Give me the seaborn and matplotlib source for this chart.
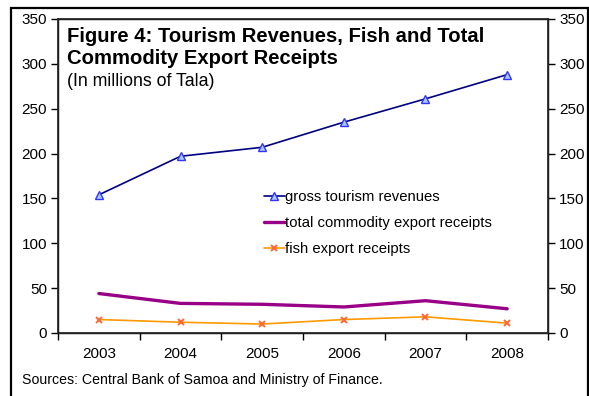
import matplotlib
matplotlib.use("Agg")
import matplotlib.pyplot as plt
import matplotlib.patches as mpatches
import seaborn as sns
import pandas as pd

years = ["2003", "2004", "2005", "2006", "2007", "2008"]
tourism = [154, 197, 207, 235, 261, 288]
commodity = [44, 33, 32, 29, 36, 27]
fish = [15, 12, 10, 15, 18, 11]

series_names = ["gross tourism revenues", "total commodity export receipts", "fish export receipts"]
y_ticks = [0, 50, 100, 150, 200, 250, 300, 350]

sns.set_theme(style="white")
plt.rcParams["font.family"] = ["Liberation Sans", "DejaVu Sans"]
plt.rcParams["text.color"] = "black"
plt.rcParams["xtick.color"] = "black"
plt.rcParams["ytick.color"] = "black"

df = pd.DataFrame({
    "year": years * 3,
    "value": tourism + commodity + fish,
    "series": [series_names[0]] * 6 + [series_names[1]] * 6 + [series_names[2]] * 6,
})
df["pos"] = df["year"].map({y: i for i, y in enumerate(years)})

fig = plt.figure(figsize=(5.89, 3.96), dpi=100)
ax = fig.add_axes([58 / 589, 1 - 333 / 396, (548 - 58) / 589, (333 - 19) / 396])

styles = {
    series_names[0]: dict(color="#000080", lw=1.2, marker="^", ms=5.5, mfc="#A6CAFF", mec="#3333FF", mew=1.0),
    series_names[1]: dict(color="#990088", lw=2.4, marker=None),
    series_names[2]: dict(color="#FF9900", lw=1.2, marker="x", ms=5, mec="#FF6633", mew=1.4),
}
for name in series_names:
    st = styles[name]
    sub = df[df["series"] == name]
    sns.lineplot(data=sub, x="pos", y="value", ax=ax, color=st["color"], linewidth=st["lw"],
                 marker=st.get("marker"), markersize=st.get("ms", 0),
                 markerfacecolor=st.get("mfc", st.get("mec", st["color"])),
                 markeredgecolor=st.get("mec", st["color"]),
                 markeredgewidth=st.get("mew", 1), label=name, legend=False)

tick_fs = 11
ax.set_xlim(-0.5, len(years) - 0.5)
ax.set_ylim(0, 350)
ax.set_xlabel("")
ax.set_ylabel("")
ax.set_xticks([i - 0.5 for i in range(len(years) + 1)])
ax.set_xticklabels([])
ax.set_xticks(range(len(years)), minor=True)
ax.set_xticklabels(years, minor=True, fontsize=tick_fs)
ax.tick_params(axis="x", which="major", direction="out", length=5, width=1, color="black", bottom=True)
ax.tick_params(axis="x", which="minor", length=0, pad=10)
ax.set_yticks(y_ticks)
ax.set_yticklabels([str(v) for v in y_ticks], fontsize=tick_fs)
ax.tick_params(axis="y", direction="out", length=5, width=1, color="black", left=True, pad=3)

for side in ["left", "bottom", "right", "top"]:
    ax.spines[side].set_visible(True)
    ax.spines[side].set_color("black")
    ax.spines[side].set_linewidth(1.0)

ax2 = ax.twinx()
ax2.set_ylim(0, 350)
ax2.set_yticks(y_ticks)
ax2.set_yticklabels([str(v) for v in y_ticks], fontsize=tick_fs)
ax2.tick_params(axis="y", direction="out", length=5, width=1, color="black", right=True, pad=3)
ax2.grid(False)
ax.grid(False)

handles = [
    plt.Line2D([], [], color="#000080", lw=1.2, marker="^", ms=5.5, mfc="#A6CAFF", mec="#3333FF"),
    plt.Line2D([], [], color="#990088", lw=2.4),
    plt.Line2D([], [], color="#FF9900", lw=1.2, marker="x", ms=5, mec="#FF6633", mew=1.4),
]
ax.legend(handles, series_names, loc="upper left", bbox_to_anchor=((258 - 58) / 490, (333 - 184) / 314),
          frameon=False, fontsize=10.7, handlelength=1.4, handletextpad=0.0, labelspacing=0.8,
          borderaxespad=0)

fig.text(67 / 589, 1 - 36 / 396, "Figure 4: Tourism Revenues, Fish and Total",
         fontsize=14.6, fontweight="bold", va="center", ha="left")
fig.text(67 / 589, 1 - 59 / 396, "Commodity Export Receipts",
         fontsize=14.6, fontweight="bold", va="center", ha="left")
fig.text(67 / 589, 1 - 82 / 396, "(In millions of Tala)", fontsize=12.8, va="center", ha="left")
fig.text(22 / 589, 1 - 380 / 396, "Sources: Central Bank of Samoa and Ministry of Finance.",
         fontsize=10.2, va="center", ha="left")

fig.patches.append(mpatches.Rectangle((11 / 589, -0.05), (588 - 11) / 589, 1.05 - 8 / 396,
                                      transform=fig.transFigure, fill=False, edgecolor="black",
                                      linewidth=1.6))

fig.savefig("out.png", dpi=100)
